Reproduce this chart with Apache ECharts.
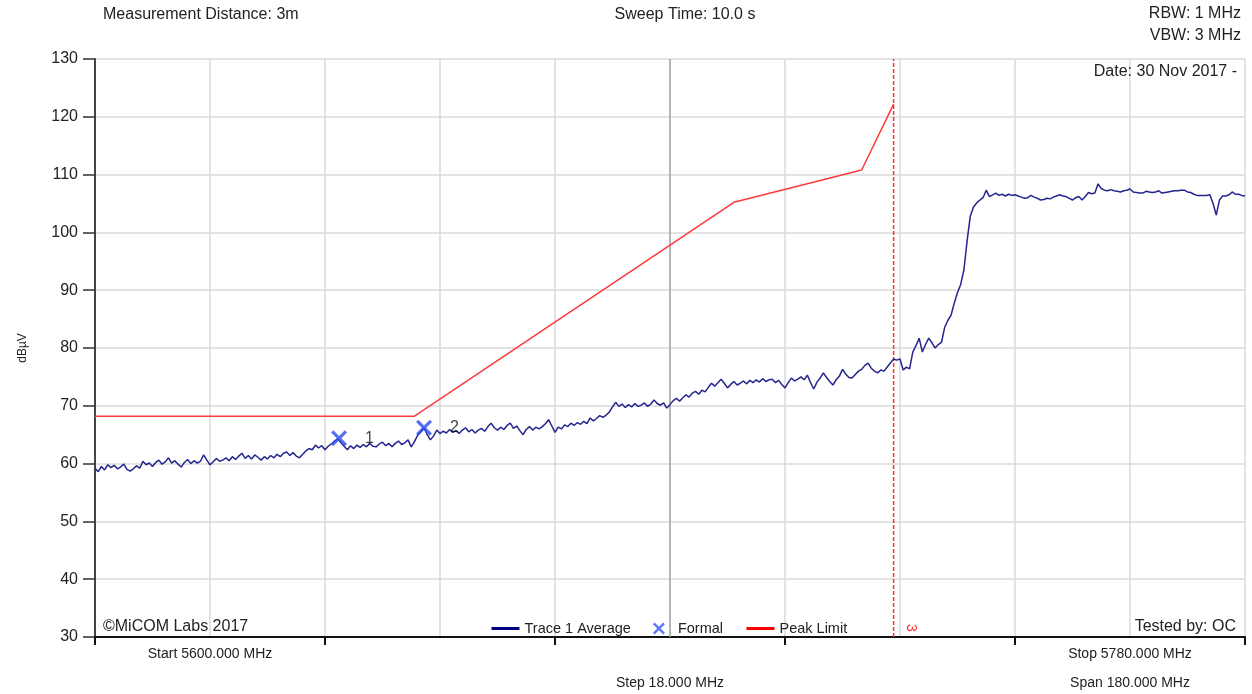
<!DOCTYPE html>
<html>
<head>
<meta charset="utf-8">
<script src="https://cdn.jsdelivr.net/npm/echarts@6/dist/echarts.min.js"></script>
<style>
html,body{margin:0;padding:0;background:#fff;}
#chart{width:1252px;height:694px;}
</style>
</head>
<body>
<div id="chart"></div>
<script>
// ---------- DATA ----------
const startFreq = 5600;      // MHz
const stopFreq = 5780;       // MHz
const stepFreq = 18;         // MHz per division
const centreFreq = 5690;     // MHz
const yMin = 30, yMax = 130, yStep = 10;

// Trace 1 Average, sampled every 0.5 MHz from 5600 MHz
const traceStart = 5600;
const traceStep = 0.5;
const traceValues = [
  59.2,58.6,59.5,58.9,59.8,59.3,59.7,59.1,59.4,59.9,59.0,58.7,59.1,59.6,59.2,60.4,59.8,60.1,59.5,60.2,
  60.6,59.9,60.3,61.0,60.1,60.5,59.9,59.4,60.2,60.7,60.0,60.5,60.1,60.4,61.5,60.6,59.8,60.3,60.9,60.4,
  60.6,61.0,60.5,61.2,60.7,61.3,61.8,60.9,61.4,60.8,61.5,61.1,60.6,61.2,60.8,61.4,61.0,61.6,61.2,61.8,
  62.0,61.4,61.9,61.3,61.0,61.6,62.2,62.6,62.4,63.2,62.7,63.1,62.4,63.0,63.4,63.9,64.3,63.6,63.0,62.4,
  63.1,62.6,63.2,62.8,63.3,62.9,63.5,63.0,62.9,63.4,63.7,63.1,63.5,62.9,63.5,63.9,63.3,63.6,64.1,62.9,
  63.8,64.9,65.5,66.2,65.0,64.1,64.8,65.8,65.2,65.6,65.3,65.9,65.4,65.7,65.2,65.8,66.2,65.5,65.9,65.3,
  65.8,66.1,65.6,66.4,67.0,66.2,65.8,66.3,65.9,66.6,67.0,66.1,66.5,65.7,65.0,65.9,66.4,65.8,66.3,66.0,
  66.4,66.9,67.6,66.5,65.4,66.3,66.0,66.7,66.4,67.0,66.6,67.1,66.8,67.3,66.9,67.9,67.4,67.8,68.3,68.0,
  68.4,68.9,69.8,70.6,69.9,70.3,69.7,70.2,69.8,70.4,69.9,70.1,70.5,69.9,70.3,71.0,70.4,70.1,70.5,69.6,
  70.2,70.9,71.3,70.8,71.4,71.9,71.5,72.2,72.5,72.0,72.7,72.4,73.2,73.9,73.4,74.0,74.6,73.9,73.1,73.7,
  74.2,73.6,73.9,74.3,73.8,74.4,74.0,74.5,74.1,74.7,74.2,74.5,74.6,74.0,74.4,73.7,73.1,74.0,74.8,74.3,
  74.6,75.0,74.5,75.3,74.0,72.9,74.1,74.8,75.7,74.9,74.2,73.6,74.5,75.1,76.3,75.5,74.9,74.8,75.4,76.0,
  76.3,77.0,77.4,76.5,76.0,75.7,76.2,76.0,76.7,77.4,78.1,77.9,78.1,76.2,76.7,76.4,79.3,80.4,81.7,79.3,
  80.6,81.7,80.9,80.0,80.6,81.0,83.6,84.8,85.7,87.8,89.6,91.0,93.5,98.5,102.8,104.4,105.1,105.6,106.0,107.3,
  106.2,106.5,106.8,106.4,106.6,106.3,106.6,106.4,106.5,106.3,106.1,105.9,106.0,106.4,106.1,105.9,105.6,105.7,105.9,105.8,
  106.1,106.3,106.5,106.3,106.2,105.9,105.6,106.0,106.2,105.6,106.2,106.9,106.7,106.8,108.4,107.6,107.3,107.2,107.4,107.2,
  107.1,107.0,107.2,107.3,107.5,107.0,106.9,106.8,106.8,107.1,107.0,106.9,107.0,107.2,106.8,106.9,107.0,107.1,107.2,107.2,
  107.3,107.3,107.0,106.9,106.6,106.4,106.4,106.4,106.4,106.5,105.0,103.0,105.6,106.3,106.3,106.5,107.0,106.6,106.6,106.4,
  106.3
];

// Peak limit mask
const limitFreqs  = [5600, 5650, 5700, 5720, 5725];
const limitLevels = [68.2, 68.2, 105.2, 110.8, 122.2];

// Markers (Formal)
const markerFreqs  = [5638.2, 5651.5];
const markerLevels = [64.4, 66.2];
const markerNames  = ['1', '2'];

// Display line 3
const displayLineFreq = 5725;
const displayLineName = '3';

// ---------- TEXT ----------
const FONT = '"Liberation Sans", Arial, sans-serif';
const X_PATH = 'path://M0,1.4L1.4,0L5,3.6L8.6,0L10,1.4L6.4,5L10,8.6L8.6,10L5,6.4L1.4,10L0,8.6L3.6,5Z';

const traceData = traceValues.map((v, i) => [traceStart + i * traceStep, v]);
const limitData = limitFreqs.map((f, i) => [f, limitLevels[i]]);
const markerData = markerFreqs.map((f, i) => ({ value: [f, markerLevels[i]], name: markerNames[i] }));
const displayLineData = [[displayLineFreq, yMin], [displayLineFreq, yMax]];
const centreLineData = [[centreFreq, yMin], [centreFreq, yMax]];

const fmt = v => v.toFixed(3);
const startLabelAt = startFreq + stepFreq;
const stopLabelAt = stopFreq - stepFreq;

const chart = echarts.init(document.getElementById('chart'), null, { renderer: 'canvas' });

const option = {
  animation: false,
  backgroundColor: '#ffffff',
  textStyle: { fontFamily: FONT },
  grid: { left: 95, right: 7, top: 59, bottom: 57, containLabel: false, outerBoundsMode: 'none' },
  legend: {
    left: 490, top: 621, padding: 0,
    itemWidth: 28, itemHeight: 12, itemGap: 22,
    textStyle: { fontSize: 14.5, color: '#222', fontFamily: FONT },
    data: [
      { name: 'Trace 1 Average', lineStyle: { width: 3, color: '#000080' }, itemStyle: { color: '#000080', opacity: 0 } },
      { name: 'Formal', icon: X_PATH, itemStyle: { color: '#3355ff' } },
      { name: 'Peak Limit', lineStyle: { width: 3, color: '#ff0000' }, itemStyle: { color: '#ff0000', opacity: 0 } }
    ]
  },
  xAxis: [
    {
      type: 'value', min: startFreq, max: stopFreq, interval: stepFreq, position: 'bottom',
      axisLine: { show: false }, axisTick: { show: false },
      splitLine: { show: true, lineStyle: { color: '#dadada', width: 1.5 } },
      axisLabel: {
        show: true, margin: 3, fontSize: 14, color: '#222', lineHeight: 29, fontFamily: FONT,
        formatter: function (v) {
          if (Math.abs(v - startLabelAt) < 1e-6) return 'Start ' + fmt(startFreq) + ' MHz';
          if (Math.abs(v - centreFreq) < 1e-6) return ' \nStep ' + fmt(stepFreq) + ' MHz';
          if (Math.abs(v - stopLabelAt) < 1e-6) return 'Stop ' + fmt(stopFreq) + ' MHz\nSpan ' + fmt(stopFreq - startFreq) + ' MHz';
          return '';
        }
      }
    },
    {
      type: 'value', min: startFreq, max: stopFreq, interval: stepFreq * 2, position: 'bottom',
      axisLine: { show: true, onZero: false, lineStyle: { color: '#111', width: 2 } },
      axisTick: { show: true, inside: false, length: 8, lineStyle: { color: '#111', width: 2 } },
      axisLabel: { show: false }, splitLine: { show: false }
    }
  ],
  yAxis: {
    type: 'value', min: yMin, max: yMax, interval: yStep,
    name: 'dBµV', nameLocation: 'middle', nameGap: 66, nameRotate: 90,
    nameTextStyle: { fontSize: 12, color: '#222', fontFamily: FONT },
    axisLine: { show: true, lineStyle: { color: '#444', width: 2 } },
    axisTick: { show: true, inside: false, length: 12, lineStyle: { color: '#333', width: 1.5 } },
    axisLabel: { margin: 17, fontSize: 16, color: '#222', fontFamily: FONT },
    splitLine: { show: true, lineStyle: { color: '#dadada', width: 1.5 } }
  },
  series: [
    {
      name: 'Centre', type: 'line', data: centreLineData, xAxisIndex: 0, silent: true, z: 1,
      symbol: 'none', lineStyle: { color: '#a6a6a6', width: 1.5 }, itemStyle: { color: '#a6a6a6' }
    },
    {
      name: 'Peak Limit', type: 'line', data: limitData, xAxisIndex: 0, z: 3,
      symbol: 'none', lineStyle: { color: '#ff3a3a', width: 1.5 }, itemStyle: { color: '#ff0000' }
    },
    {
      name: 'Display Line', type: 'line', data: displayLineData, xAxisIndex: 0, silent: true, z: 3,
      symbol: 'none', itemStyle: { color: '#ff0000' },
      lineStyle: { color: '#ff3030', width: 1.5, type: [4, 2] }
    },
    {
      name: 'Trace 1 Average', type: 'line', data: traceData, xAxisIndex: 0, z: 4,
      symbol: 'none', lineStyle: { color: '#25258f', width: 1.5 }, itemStyle: { color: '#000080' }
    },
    {
      name: 'Formal', type: 'scatter', data: markerData, xAxisIndex: 0, z: 5,
      symbol: X_PATH, symbolSize: 16, symbolKeepAspect: true,
      itemStyle: { color: '#2a4cf0' },
      label: {
        show: true, position: 'right', distance: 18, formatter: '{b}',
        fontSize: 16, color: '#111', fontFamily: FONT
      }
    }
  ]
};

chart.setOption(option);

// Positioned text; the display-line label is placed through the chart's scales
const p3 = chart.convertToPixel({ xAxisIndex: 0, yAxisIndex: 0 }, [displayLineFreq, yMin]);
const T = (text, x, y, align, size, fill) => ({
  type: 'text', x: x, y: y, silent: true,
  style: { text: text, font: size + 'px ' + FONT, fill: fill || '#222', align: align, verticalAlign: 'middle' }
});
chart.setOption({
  graphic: [
    T('Measurement Distance: 3m', 103, 15, 'left', 16),
    T('Sweep Time: 10.0 s', 685, 15, 'center', 16),
    T('RBW: 1 MHz', 1241, 14, 'right', 16),
    T('VBW: 3 MHz', 1241, 36, 'right', 16),
    T('Date: 30 Nov 2017 -', 1237, 72, 'right', 16),
    T('©MiCOM Labs 2017', 103, 627, 'left', 16),
    T('Tested by: OC', 1236, 627, 'right', 16),
    {
      type: 'text', x: p3[0] + 17, y: p3[1] - 9, rotation: -Math.PI / 2, silent: true,
      style: { text: displayLineName, font: '14px ' + FONT, fill: '#ff3030', align: 'center', verticalAlign: 'middle' }
    }
  ]
});
</script>
</body>
</html>
